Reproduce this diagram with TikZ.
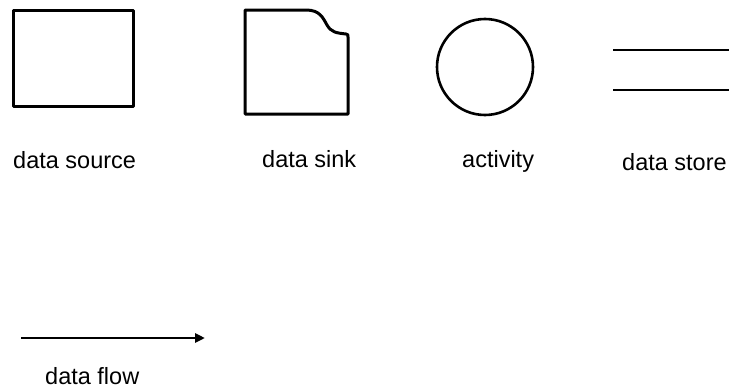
\documentclass[tikz,border=0pt]{standalone}
\usepackage{fontspec}
\setmainfont{Liberation Sans}
\usetikzlibrary{arrows.meta}
\begin{document}
\begin{tikzpicture}[x=1pt,y=-1pt,
  shapeline/.style={draw=black,line width=3pt,line join=round},
  label/.style={anchor=base west,inner sep=0pt,font=\fontsize{23.5}{28}\selectfont}]
\useasboundingbox (0,0) rectangle (729,388);

% data source: plain rectangle
\draw[shapeline] (13,10) rectangle (133,106);
\node[label] (srclabel) at (13,168) {data source};

% data sink: rectangle with a curved notch in the upper right corner
\draw[shapeline] (245,10) -- (306,10)
  .. controls (320,10) and (323,18) .. (327,25)
  .. controls (331,32) and (336,33) .. (346,34)
  .. controls (348,34) and (348,35) .. (348,37)
  -- (348,114) -- (245,114) -- cycle;
\node[label] (sinklabel) at (262,167) {data sink};

% activity: circle
\node[draw=black,line width=2.6pt,circle,minimum size=96pt,inner sep=0pt] (act) at (485,67) {};
\node[label] (actlabel) at (462,167) {activity};

% data store: two parallel lines
\coordinate (st1a) at (613,50);
\coordinate (st1b) at (729,50);
\coordinate (st2a) at (613,90);
\coordinate (st2b) at (729,90);
\draw[line width=2.8pt] (st1a) -- (st1b);
\draw[line width=2.8pt] (st2a) -- (st2b);
\node[label] (storelabel) at (622,170) {data store};

% data flow: arrow
\coordinate (flowa) at (21,338);
\coordinate (flowb) at (205,338);
\draw[line width=2.8pt,-{Triangle[length=10pt,width=9pt]}] (flowa) -- (flowb);
\node[label] (flowlabel) at (45,384) {data flow};
\end{tikzpicture}
\end{document}
